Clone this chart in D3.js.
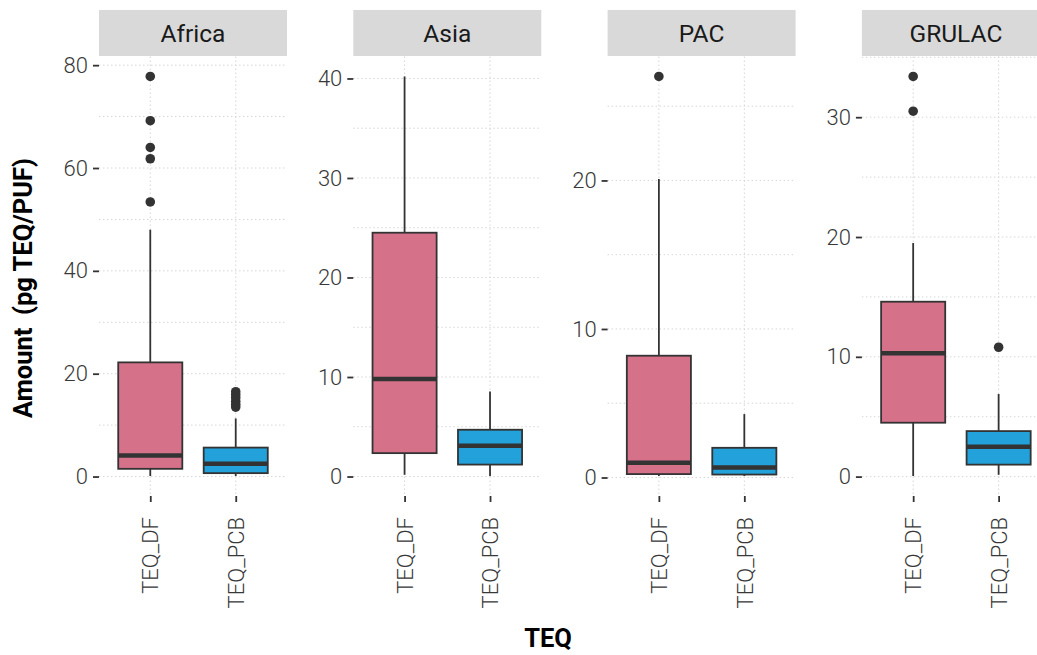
<!DOCTYPE html>
<html><head><meta charset="utf-8">
<script src="https://cdn.jsdelivr.net/npm/d3@7"></script>
<style>body{margin:0;background:#fff}svg{display:block}</style>
</head><body>
<svg id="chart" width="1037" height="655"></svg>
<script>
// ---- data ----
const regions = ["Africa", "Asia", "PAC", "GRULAC"];
const groups = ["TEQ_DF", "TEQ_PCB"];
// box stats: [lower whisker, Q1, median, Q3, upper whisker]
const africaDF = [0.1, 1.5, 4.1, 22.2, 48.0];
const africaPCB = [0.1, 0.66, 2.47, 5.63, 11.3];
const asiaDF = [0.17, 2.35, 9.8, 24.5, 40.2];
const asiaPCB = [0.05, 1.2, 3.1, 4.7, 8.55];
const pacDF = [0.1, 0.23, 1.0, 8.2, 20.1];
const pacPCB = [0.1, 0.2, 0.67, 2.0, 4.27];
const grulacDF = [0.05, 4.5, 10.3, 14.6, 19.5];
const grulacPCB = [0.15, 1.0, 2.5, 3.8, 6.9];
// outliers
const africaDFOut = [77.8, 69.2, 64.0, 61.8, 53.4];
const africaPCBOut = [16.5, 15.9, 15.3, 14.6, 14.0, 13.5];
const asiaDFOut = [];
const asiaPCBOut = [];
const pacDFOut = [27.0];
const pacPCBOut = [];
const grulacDFOut = [33.4, 30.5];
const grulacPCBOut = [10.8];
// y tick labels per panel
const africaTicks = [0, 20, 40, 60, 80];
const asiaTicks = [0, 10, 20, 30, 40];
const pacTicks = [0, 10, 20];
const grulacTicks = [0, 10, 20, 30];
const africaMinor = [10, 30, 50, 70];
const asiaMinor = [5, 15, 25, 35];
const pacMinor = [5, 15, 25];
const grulacMinor = [5, 15, 25, 35];
const groupColors = ["#d6718a", "#22a1db"];

const panels = [
  {name: regions[0], stats: [africaDF, africaPCB], out: [africaDFOut, africaPCBOut], ticks: africaTicks, minor: africaMinor},
  {name: regions[1], stats: [asiaDF, asiaPCB], out: [asiaDFOut, asiaPCBOut], ticks: asiaTicks, minor: asiaMinor},
  {name: regions[2], stats: [pacDF, pacPCB], out: [pacDFOut, pacPCBOut], ticks: pacTicks, minor: pacMinor},
  {name: regions[3], stats: [grulacDF, grulacPCB], out: [grulacDFOut, grulacPCBOut], ticks: grulacTicks, minor: grulacMinor}
];

// ---- layout ----
const svg = d3.select("#chart");
const panelLeft0 = 99, panelStep = 254.3, panelW = 188;
const stripTop = 10, stripBottom = 56, panelTop = 56.5, panelBottom = 496;
const axisColor = "#333333", textColor = "#383838", gridColor = "#d6d6d6";
const font = "Roboto, 'Liberation Sans', sans-serif";

panels.forEach((p, i) => {
  const x0 = panelLeft0 + i * panelStep;
  const g = svg.append("g").attr("transform", `translate(${x0},0)`);
  const allVals = p.stats.flat().concat(p.out.flat());
  const lo = d3.min(allVals), hi = d3.max(allVals), pad = (hi - lo) * 0.05;
  const y = d3.scaleLinear().domain([lo - pad, hi + pad]).range([panelBottom, panelTop]);
  const x = d3.scalePoint().domain(groups).range([0, panelW]).padding(0.6);
  const step = x.step();
  const bw = step * 0.75;

  // strip
  g.append("rect").attr("x", 0).attr("y", stripTop).attr("width", panelW).attr("height", stripBottom - stripTop).attr("fill", "#d9d9d9");
  g.append("text").attr("x", panelW / 2).attr("y", (stripTop + stripBottom) / 2).attr("dy", "0.36em")
    .attr("text-anchor", "middle").attr("font-family", font).attr("font-size", 24.5).attr("fill", "#1a1a1a").text(p.name);

  // grid
  const grid = g.append("g").attr("stroke", gridColor).attr("stroke-width", 1).attr("stroke-dasharray", "1.5,2.5");
  p.minor.filter(v => v >= y.domain()[0] && v <= y.domain()[1]).forEach(v => {
    grid.append("line").attr("x1", 0).attr("x2", panelW).attr("y1", y(v)).attr("y2", y(v));
  });
  p.ticks.forEach(v => {
    grid.append("line").attr("x1", 0).attr("x2", panelW).attr("y1", y(v)).attr("y2", y(v));
  });
  groups.forEach(gr => {
    grid.append("line").attr("x1", x(gr)).attr("x2", x(gr)).attr("y1", panelTop).attr("y2", panelBottom);
  });

  // y axis
  const ya = g.append("g").call(d3.axisLeft(y).tickValues(p.ticks).tickSize(6).tickPadding(5).tickFormat(d3.format("d")));
  ya.select(".domain").remove();
  ya.selectAll(".tick line").attr("stroke", axisColor).attr("stroke-width", 1.8);
  ya.selectAll(".tick text").attr("font-family", font).attr("font-size", 22).attr("font-weight", 300).attr("fill", textColor);

  // x axis
  const xa = g.append("g").attr("transform", `translate(0,${panelBottom})`).call(d3.axisBottom(x).tickSize(6).tickPadding(0));
  xa.select(".domain").remove();
  xa.selectAll(".tick line").attr("stroke", axisColor).attr("stroke-width", 1.8);
  xa.selectAll(".tick text").attr("font-family", font).attr("font-size", 22).attr("font-weight", 300).attr("fill", textColor)
    .attr("transform", "rotate(-90)").attr("text-anchor", "end").attr("x", -21).attr("y", 0).attr("dy", "0.35em");

  // boxes
  groups.forEach((gr, j) => {
    const s = p.stats[j];
    const cx = x(gr);
    const bg = g.append("g");
    bg.append("line").attr("x1", cx).attr("x2", cx).attr("y1", y(s[0])).attr("y2", y(s[1])).attr("stroke", axisColor).attr("stroke-width", 1.8);
    bg.append("line").attr("x1", cx).attr("x2", cx).attr("y1", y(s[3])).attr("y2", y(s[4])).attr("stroke", axisColor).attr("stroke-width", 1.8);
    bg.append("rect").attr("x", cx - bw / 2).attr("y", y(s[3])).attr("width", bw).attr("height", y(s[1]) - y(s[3]))
      .attr("fill", groupColors[j]).attr("stroke", axisColor).attr("stroke-width", 1.8);
    bg.append("line").attr("x1", cx - bw / 2).attr("x2", cx + bw / 2).attr("y1", y(s[2])).attr("y2", y(s[2]))
      .attr("stroke", axisColor).attr("stroke-width", 4.5);
    bg.selectAll("circle").data(p.out[j]).join("circle")
      .attr("cx", cx).attr("cy", d => y(d)).attr("r", 4.8).attr("fill", axisColor);
  });
});

// axis titles
svg.append("text").attr("transform", "translate(32,288) rotate(-90)").attr("text-anchor", "middle")
  .attr("font-family", font).attr("font-size", 25.5).attr("font-weight", "bold").attr("fill", "#000")
  .text("Amount\u00a0 (pg TEQ/PUF)");
svg.append("text").attr("x", 548).attr("y", 647).attr("text-anchor", "middle")
  .attr("font-family", font).attr("font-size", 25.5).attr("font-weight", "bold").attr("fill", "#000").text("TEQ");
</script>
</body></html>
